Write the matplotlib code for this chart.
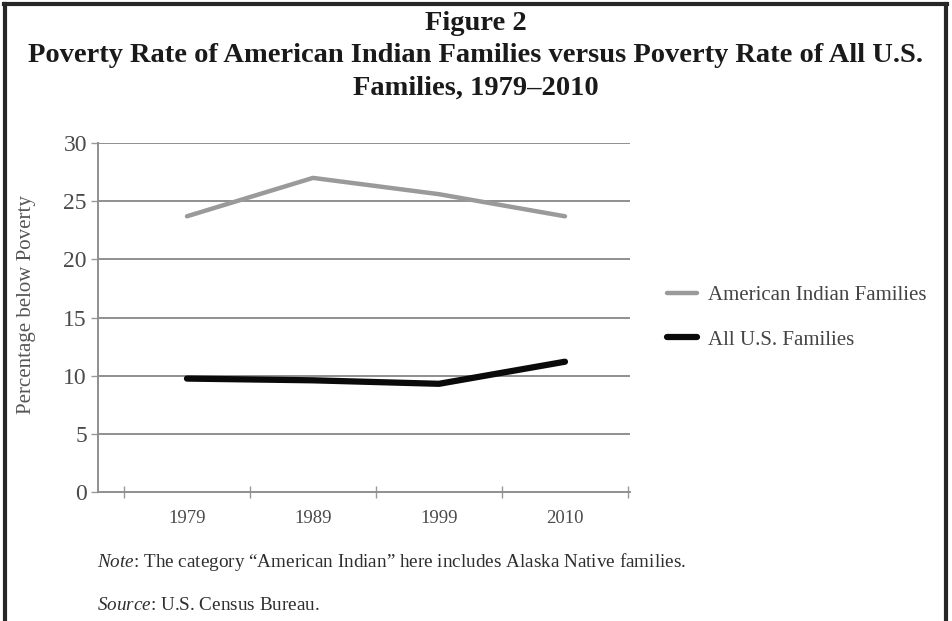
import numpy as np
import matplotlib
matplotlib.use("Agg")
import matplotlib.pyplot as plt
from matplotlib.lines import Line2D

# data
years = ["1979", "1989", "1999", "2010"]
american_indian = [23.7, 27.0, 25.6, 23.7]
all_us = [9.75, 9.6, 9.3, 11.2]
y_ticks = [0, 5, 10, 15, 20, 25, 30]

plt.rcParams["font.family"] = ["Liberation Serif", "DejaVu Serif"]
plt.rcParams["mathtext.fontset"] = "custom"
plt.rcParams["mathtext.rm"] = "Liberation Serif"
plt.rcParams["mathtext.it"] = "Liberation Serif:italic"

fig = plt.figure(figsize=(9.52, 6.21), dpi=100)
fig.patch.set_facecolor("white")

# page frame (left, top, right)
frame_col = "#262626"
fig.add_artist(Line2D([0.005, 0.005], [0.0, 0.993], transform=fig.transFigure, color=frame_col, lw=3))
fig.add_artist(Line2D([0.004, 0.995], [0.993, 0.993], transform=fig.transFigure, color=frame_col, lw=3))
fig.add_artist(Line2D([0.994, 0.994], [0.0, 0.993], transform=fig.transFigure, color=frame_col, lw=3))

# titles
title_kw = dict(ha="center", va="center", fontsize=20.5, fontweight="bold", color="#1a1a1a")
fig.text(0.5, 1 - 23 / 621, "Figure 2", **title_kw)
fig.text(0.5, 1 - 56 / 621,
         "Poverty Rate of American Indian Families versus Poverty Rate of All U.S.", **title_kw)
fig.text(0.5, 1 - 88 / 621, "Families, 1979\u20132010", **title_kw)

ax = fig.add_axes([98 / 952, 1 - 492 / 621, (630 - 98) / 952, (492 - 143) / 621])
x = np.arange(len(years))

ax.set_ylim(0, 30)
ax.set_xlim(-0.706, 3.516)
ax.set_yticks(y_ticks)
ax.set_yticklabels([str(v) for v in y_ticks], fontsize=17, color="#4a4a4a")
ax.set_xticks(x)
ax.set_xticklabels(years, fontsize=13.5, color="#4a4a4a")
ax.set_xticks(np.arange(len(years) + 1) - 0.5, minor=True)
ax.tick_params(axis="x", which="major", length=0, pad=13)
ax.tick_params(axis="x", which="minor", direction="inout", length=9, width=1, color="#999999")
ax.tick_params(axis="y", length=5, width=1, color="#999999", pad=3)

for v in y_ticks[1:]:
    ax.axhline(v, color="#8f8f8f", lw=1.4, zorder=1)

for side in ["top", "right"]:
    ax.spines[side].set_visible(False)
for side in ["left", "bottom"]:
    ax.spines[side].set_color("#8f8f8f")
    ax.spines[side].set_linewidth(1.4)

ax.plot(x, american_indian, color="#9a9a9a", lw=3.2, solid_capstyle="round",
        label="American Indian Families", zorder=3)
ax.plot(x, all_us, color="#0a0a0a", lw=4.5, solid_capstyle="round",
        label="All U.S. Families", zorder=3)

fig.text(27 / 952, 1 - 305 / 621, "Percentage below Poverty", rotation=90,
         ha="center", va="center", fontsize=15, color="#555555")

ax.legend(loc="center left", bbox_to_anchor=(1.035, 0.50), frameon=False,
          fontsize=15, labelcolor="#444444", handlelength=1.4, handletextpad=0.55,
          labelspacing=1.2)

fig.text(97 / 952, 1 - 562 / 621,
         "$\\it{Note}$: The category \u201cAmerican Indian\u201d here includes Alaska Native families.",
         ha="left", va="center", fontsize=13.8, color="#2e2e2e")
fig.text(97 / 952, 1 - 605 / 621, "$\\it{Source}$: U.S. Census Bureau.",
         ha="left", va="center", fontsize=13.8, color="#2e2e2e")

fig.savefig("out.png", dpi=100, facecolor="white")
